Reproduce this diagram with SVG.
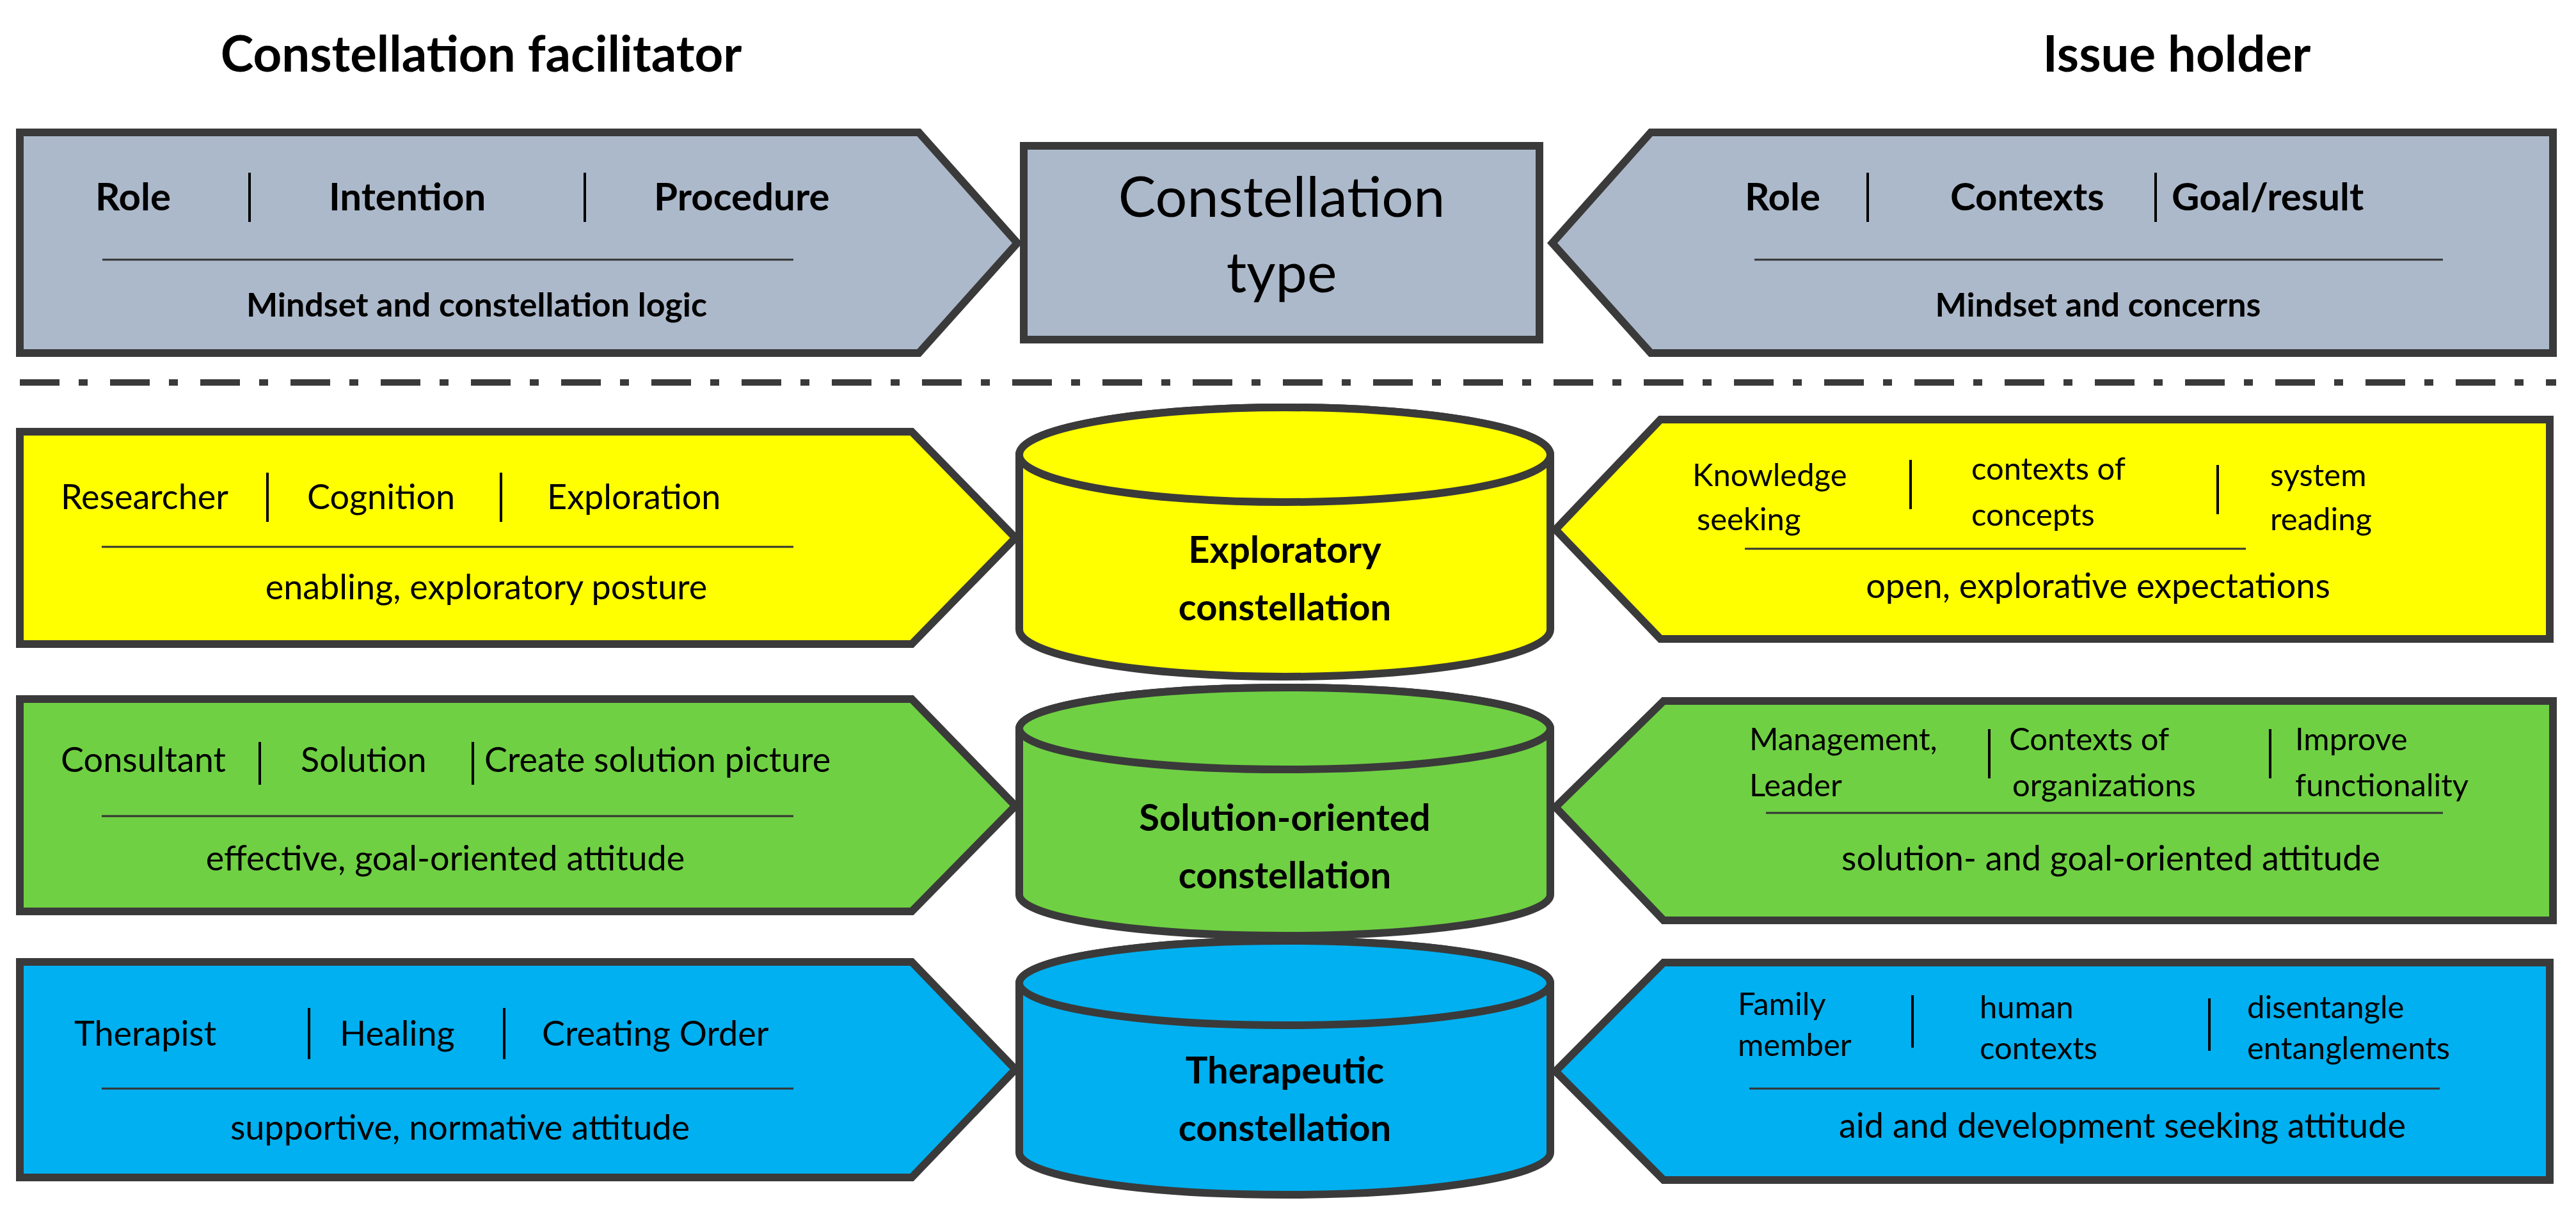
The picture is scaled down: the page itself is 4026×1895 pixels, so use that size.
<svg xmlns="http://www.w3.org/2000/svg" width="4026" height="1895" viewBox="0 0 4026 1895">
<style>
text{font-family:Lato,"Open Sans",sans-serif;fill:#000}
.t{font-size:78px;font-weight:bold;text-anchor:middle}
.h{font-size:60px;font-weight:bold}
.hm{font-size:52px;font-weight:bold;text-anchor:middle}
.r{font-size:54px}
.rm{font-size:54px;text-anchor:middle}
.s{font-size:49px}
.c{font-size:58px;font-weight:bold;text-anchor:middle}
.shape{stroke:#3a3a3a;stroke-width:12;stroke-linejoin:miter}
.sep{stroke:#000;stroke-width:4}
.ln{stroke:#333;stroke-width:3}
.gray{fill:#ACB9CA}.yel{fill:#FFFF00}.grn{fill:#6FD043}.blu{fill:#00B0F0}
</style>
<rect width="4026" height="1895" fill="#fff"/>
<text class="t" x="752" y="112">Constellation facilitator</text>
<text class="t" x="3402" y="112">Issue holder</text>

<g id="fac-header">
<polygon class="shape gray" points="31,207 1436,207 1590,380 1436,552 31,552"/>
<text class="h" x="149" y="329">Role</text><line class="sep" x1="390" y1="270" x2="390" y2="347"/>
<text class="h" x="514" y="329">Intention</text><line class="sep" x1="914" y1="270" x2="914" y2="347"/>
<text class="h" x="1022" y="329">Procedure</text>
<line class="ln" x1="160" y1="406" x2="1240" y2="406"/>
<text class="hm" x="745" y="495">Mindset and constellation logic</text>
</g>
<g id="type-box">
<rect class="shape gray" x="1600" y="228" width="806" height="303"/>
<text class="rm" style="font-size:88px" x="2003" y="339">Constellation</text>
<text class="rm" style="font-size:88px" x="2003" y="457">type</text>
</g>
<g id="holder-header">
<polygon class="shape gray" points="3990,207 2580,207 2426,380 2580,552 3990,552"/>
<text class="h" x="2727" y="329">Role</text><line class="sep" x1="2919" y1="270" x2="2919" y2="347"/>
<text class="h" x="3048" y="329">Contexts</text><line class="sep" x1="3369" y1="270" x2="3369" y2="347"/>
<text class="h" x="3394" y="329">Goal/result</text>
<line class="ln" x1="2742" y1="406" x2="3818" y2="406"/>
<text class="hm" x="3279" y="495">Mindset and concerns</text>
</g>

<line x1="31" y1="598" x2="3995" y2="598" stroke="#3a3a3a" stroke-width="10" stroke-dasharray="62 30 14 35"/>

<g id="fac-exploratory">
<polygon class="shape yel" points="31,675 1425,675 1587,841 1425,1007 31,1007"/>
<text class="r" x="95" y="796">Researcher</text><line class="sep" x1="418" y1="739" x2="418" y2="816"/>
<text class="r" x="480" y="796">Cognition</text><line class="sep" x1="783" y1="739" x2="783" y2="816"/>
<text class="r" x="855" y="796">Exploration</text>
<line class="ln" x1="159" y1="855" x2="1240" y2="855"/>
<text class="rm" x="760" y="937">enabling, exploratory posture</text>
</g>
<g id="fac-solution">
<polygon class="shape grn" points="31,1093 1425,1093 1587,1260 1425,1425 31,1425"/>
<text class="r" x="95" y="1207">Consultant</text><line class="sep" x1="406" y1="1160" x2="406" y2="1227"/>
<text class="r" x="470" y="1207">Solution</text><line class="sep" x1="739" y1="1160" x2="739" y2="1227"/>
<text class="r" x="757" y="1207">Create solution picture</text>
<line class="ln" x1="159" y1="1276" x2="1240" y2="1276"/>
<text class="rm" x="696" y="1361">effective, goal-oriented attitude</text>
</g>
<g id="fac-therapeutic">
<polygon class="shape blu" points="31,1504 1425,1504 1587,1672 1425,1841 31,1841"/>
<text class="r" x="116" y="1635">Therapist</text><line class="sep" x1="483" y1="1576" x2="483" y2="1656"/>
<text class="r" x="531" y="1635">Healing</text><line class="sep" x1="788" y1="1576" x2="788" y2="1656"/>
<text class="r" x="847" y="1635">Creating Order</text>
<line class="ln" x1="159" y1="1702" x2="1240" y2="1702"/>
<text class="rm" x="719" y="1782">supportive, normative attitude</text>
</g>

<g id="cyl-exploratory">
<path class="shape yel" d="M1593,711 V984 A415,74 0 0 0 2423,984 V711 A415,74 0 0 0 1593,711 Z"/>
<ellipse class="shape yel" cx="2008" cy="711" rx="415" ry="74"/>
<text class="c" x="2008" y="880">Exploratory</text>
<text class="c" x="2008" y="970">constellation</text>
</g>
<g id="cyl-solution">
<path class="shape grn" d="M1593,1139 V1399 A415,64 0 0 0 2423,1399 V1139 A415,64 0 0 0 1593,1139 Z"/>
<ellipse class="shape grn" cx="2008" cy="1139" rx="415" ry="64"/>
<text class="c" x="2008" y="1299">Solution-oriented</text>
<text class="c" x="2008" y="1389">constellation</text>
</g>
<g id="cyl-therapeutic">
<path class="shape blu" d="M1593,1537 V1802 A415,66 0 0 0 2423,1802 V1537 A415,66 0 0 0 1593,1537 Z"/>
<ellipse class="shape blu" cx="2008" cy="1537" rx="415" ry="66"/>
<text class="c" x="2008" y="1694">Therapeutic</text>
<text class="c" x="2008" y="1784">constellation</text>
</g>

<g id="holder-exploratory">
<polygon class="shape yel" points="3985,656 2595,656 2431,828 2595,999 3985,999"/>
<text class="s" x="2645" y="760">Knowledge</text><text class="s" x="2652" y="829">seeking</text>
<line class="sep" x1="2986" y1="719" x2="2986" y2="796"/>
<text class="s" x="3081" y="750">contexts of</text><text class="s" x="3081" y="822">concepts</text>
<line class="sep" x1="3466" y1="727" x2="3466" y2="804"/>
<text class="s" x="3548" y="760">system</text><text class="s" x="3548" y="829">reading</text>
<line class="ln" x1="2727" y1="858" x2="3510" y2="858"/>
<text class="rm" x="3279" y="935">open, explorative expectations</text>
</g>
<g id="holder-solution">
<polygon class="shape grn" points="3990,1096 2600,1096 2431,1262 2600,1439 3990,1439"/>
<text class="s" x="2734" y="1173">Management,</text><text class="s" x="2734" y="1245">Leader</text>
<line class="sep" x1="3109" y1="1140" x2="3109" y2="1217"/>
<text class="s" x="3140" y="1173">Contexts of</text><text class="s" x="3145" y="1245">organizations</text>
<line class="sep" x1="3548" y1="1140" x2="3548" y2="1217"/>
<text class="s" x="3587" y="1173">Improve</text><text class="s" x="3587" y="1245">functionality</text>
<line class="ln" x1="2760" y1="1271" x2="3818" y2="1271"/>
<text class="rm" x="3299" y="1361">solution- and goal-oriented attitude</text>
</g>
<g id="holder-therapeutic">
<polygon class="shape blu" points="3985,1505 2600,1505 2431,1675 2600,1845 3985,1845"/>
<text class="s" x="2716" y="1587">Family</text><text class="s" x="2716" y="1651">member</text>
<line class="sep" x1="2989" y1="1556" x2="2989" y2="1638"/>
<text class="s" x="3094" y="1592">human</text><text class="s" x="3094" y="1656">contexts</text>
<line class="sep" x1="3453" y1="1561" x2="3453" y2="1643"/>
<text class="s" x="3512" y="1592">disentangle</text><text class="s" x="3512" y="1656">entanglements</text>
<line class="ln" x1="2734" y1="1702" x2="3813" y2="1702"/>
<text class="rm" x="3317" y="1779">aid and development seeking attitude</text>
</g>
<g id="connectors"></g>
</svg>
